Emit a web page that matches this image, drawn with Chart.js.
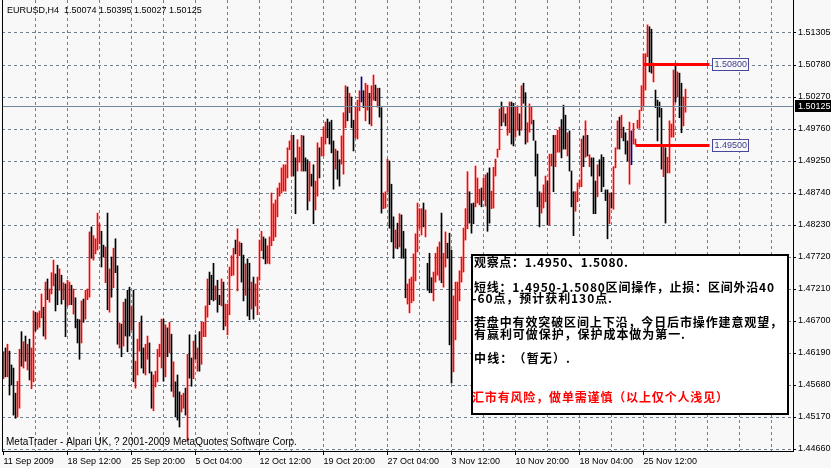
<!DOCTYPE html>
<html><head><meta charset="utf-8">
<script src="https://cdn.jsdelivr.net/npm/chart.js@4.4.1/dist/chart.umd.min.js"></script>
<style>html,body{margin:0;padding:0;background:#f8f8f8;overflow:hidden}canvas{display:block}</style>
</head><body><canvas id="c" width="831" height="468"></canvas>
<script>
// ---------------- data ----------------
const symbolName = 'EURUSD,H4';
const lastBarOHLC = ['1.50074', '1.50395', '1.50027', '1.50125'];
const currentPrice = 1.50125;
const dateLabels = ['11 Sep 2009', '18 Sep 12:00', '25 Sep 20:00', '5 Oct 04:00', '12 Oct 12:00', '19 Oct 20:00',
  '27 Oct 04:00', '3 Nov 12:00', '10 Nov 20:00', '18 Nov 04:00', '25 Nov 12:00'];
const priceLabels = ['1.44660', '1.45170', '1.45680', '1.46190', '1.46700', '1.47210', '1.47720', '1.48230',
  '1.48740', '1.49250', '1.49760', '1.50270', '1.50780', '1.51305'];
const levelPrices = [1.5080, 1.4950];
const levelLabels = ['1.50800', '1.49500'];
const levelStartBars = [320, 316];
const levelEndBars = [353, 353];

const highs = [
1.4621,1.4627,1.4633,1.4622,1.4600,1.4595,1.4555,1.4574,1.4625,1.4653,
1.4637,1.4646,1.4633,1.4641,1.4627,1.4686,1.4684,1.4683,1.4686,1.4713,
1.4692,1.4732,1.4737,1.4721,1.4747,1.4767,1.4745,1.4759,1.4753,1.4743,
1.4731,1.4729,1.4735,1.4732,1.4727,1.4721,1.4707,1.4673,1.4672,1.4702,
1.4705,1.4719,1.4721,1.4812,1.4820,1.4806,1.4801,1.4842,1.4825,1.4813,
1.4791,1.4788,1.4842,1.4753,1.4772,1.4786,1.4801,1.4758,1.4667,1.4665,
1.4700,1.4705,1.4719,1.4724,1.4694,1.4719,1.4606,1.4641,1.4668,1.4678,
1.4627,1.4633,1.4646,1.4635,1.4589,1.4584,1.4590,1.4625,1.4633,1.4673,
1.4673,1.4664,1.4659,1.4668,1.4649,1.4605,1.4573,1.4584,1.4557,1.4552,
1.4555,1.4563,1.4617,1.4648,1.4611,1.4638,1.4648,1.4627,1.4653,1.4668,
1.4668,1.4694,1.4737,1.4748,1.4743,1.4762,1.4726,1.4735,1.4711,1.4737,
1.4732,1.4697,1.4697,1.4756,1.4774,1.4786,1.4799,1.4817,1.4796,1.4794,
1.4775,1.4761,1.4769,1.4762,1.4732,1.4740,1.4729,1.4740,1.4799,1.4813,
1.4804,1.4801,1.4790,1.4804,1.4874,1.4857,1.4863,1.4882,1.4890,1.4914,
1.4919,1.4919,1.4946,1.4957,1.4966,1.4966,1.4930,1.4959,1.4947,1.4966,
1.4965,1.4930,1.4927,1.4923,1.4904,1.4919,1.4893,1.4954,1.4946,1.4963,
1.4979,1.4987,1.4992,1.4987,1.4990,1.4957,1.4944,1.4941,1.4927,1.4965,
1.5002,1.5045,1.5043,1.5033,1.5027,1.4990,1.5011,1.5022,1.5037,1.5059,
1.5037,1.5049,1.5046,1.5033,1.5045,1.5062,1.5046,1.5041,1.5041,1.5010,
1.4874,1.4876,1.4928,1.4925,1.4888,1.4836,1.4815,1.4826,1.4841,1.4839,
1.4813,1.4785,1.4729,1.4737,1.4740,1.4777,1.4809,1.4858,1.4849,1.4849,
1.4858,1.4847,1.4762,1.4778,1.4739,1.4748,1.4778,1.4788,1.4796,1.4842,
1.4778,1.4812,1.4794,1.4810,1.4783,1.4710,1.4732,1.4732,1.4750,1.4772,
1.4818,1.4849,1.4908,1.4876,1.4857,1.4858,1.4917,1.4898,1.4880,1.4882,
1.4898,1.4903,1.4906,1.4914,1.4877,1.4915,1.4928,1.4944,1.5008,1.5019,
1.5011,1.5000,1.5011,1.5019,1.5019,1.5017,1.5011,1.5013,1.5000,1.5045,
1.5049,1.5034,1.4986,1.5016,1.5011,1.4990,1.4957,1.4936,1.4876,1.4874,
1.4887,1.4901,1.4893,1.4936,1.4936,1.4966,1.4966,1.4974,1.4979,1.4991,
1.5014,1.4998,1.4970,1.4973,1.4909,1.4876,1.4876,1.4890,1.4895,1.4960,
1.4965,1.4989,1.4966,1.4935,1.4930,1.4930,1.4893,1.4919,1.4927,1.4935,
1.4931,1.4879,1.4879,1.4874,1.4874,1.4916,1.4946,1.4989,1.4995,1.4998,
1.4979,1.4970,1.4957,1.4987,1.4973,1.4985,1.4960,1.4990,1.5006,1.5045,
1.5096,1.5096,1.5142,1.5139,1.5135,1.5081,1.5038,1.5022,1.5019,1.5009,
1.4947,1.4946,1.4931,1.4989,1.4984,1.5070,1.5081,1.5067,1.5065,1.5049,
1.5027,1.50395];

const lows = [
1.4578,1.4581,1.4581,1.4552,1.4568,1.4520,1.4515,1.4517,1.4531,1.4598,
1.4595,1.4606,1.4592,1.4576,1.4562,1.4573,1.4654,1.4657,1.4660,1.4675,
1.4646,1.4641,1.4704,1.4700,1.4713,1.4726,1.4686,1.4696,1.4719,1.4697,
1.4704,1.4645,1.4694,1.4696,1.4696,1.4681,1.4659,1.4635,1.4609,1.4635,
1.4668,1.4673,1.4704,1.4708,1.4770,1.4767,1.4777,1.4783,1.4793,1.4756,
1.4772,1.4731,1.4688,1.4684,1.4708,1.4723,1.4747,1.4633,1.4627,1.4613,
1.4630,1.4646,1.4621,1.4646,1.4656,1.4573,1.4563,1.4584,1.4622,1.4595,
1.4587,1.4584,1.4609,1.4587,1.4531,1.4527,1.4565,1.4573,1.4613,1.4595,
1.4574,1.4581,1.4613,1.4619,1.4558,1.4549,1.4517,1.4512,1.4501,1.4525,
1.4531,1.4520,1.4479,1.4579,1.4566,1.4578,1.4609,1.4590,1.4590,1.4601,
1.4645,1.4645,1.4676,1.4696,1.4704,1.4702,1.4704,1.4684,1.4696,1.4694,
1.4656,1.4662,1.4648,1.4680,1.4742,1.4743,1.4777,1.4718,1.4774,1.4732,
1.4702,1.4711,1.4678,1.4672,1.4689,1.4673,1.4694,1.4680,1.4735,1.4782,
1.4769,1.4761,1.4762,1.4761,1.4790,1.4798,1.4804,1.4836,1.4869,1.4874,
1.4877,1.4877,1.4898,1.4943,1.4901,1.4901,1.4841,1.4909,1.4923,1.4909,
1.4909,1.4909,1.4847,1.4861,1.4885,1.4825,1.4847,1.4869,1.4898,1.4933,
1.4933,1.4952,1.4962,1.4952,1.4938,1.4880,1.4912,1.4896,1.4885,1.4920,
1.4904,1.4978,1.4989,1.5002,1.4978,1.4941,1.4962,1.4960,1.5005,1.5019,
1.5010,1.4989,1.5006,1.4984,1.4981,1.5022,1.5021,1.5011,1.4995,1.4842,
1.4849,1.4850,1.4876,1.4818,1.4796,1.4770,1.4786,1.4785,1.4788,1.4770,
1.4770,1.4707,1.4697,1.4683,1.4699,1.4702,1.4734,1.4780,1.4818,1.4807,
1.4820,1.4804,1.4719,1.4715,1.4715,1.4702,1.4732,1.4743,1.4735,1.4731,
1.4724,1.4756,1.4770,1.4632,1.4571,1.4589,1.4640,1.4672,1.4702,1.4732,
1.4748,1.4799,1.4817,1.4826,1.4810,1.4825,1.4852,1.4858,1.4855,1.4852,
1.4863,1.4853,1.4813,1.4826,1.4849,1.4850,1.4901,1.4931,1.4943,1.4981,
1.4987,1.4981,1.4966,1.4970,1.4952,1.4949,1.4963,1.4974,1.4966,1.4974,
1.5017,1.4952,1.4955,1.4971,1.4984,1.4958,1.4901,1.4852,1.4820,1.4842,
1.4850,1.4860,1.4823,1.4823,1.4917,1.4876,1.4916,1.4939,1.4939,1.4930,
1.4944,1.4944,1.4933,1.4909,1.4852,1.4806,1.4845,1.4860,1.4884,1.4884,
1.4916,1.4931,1.4933,1.4916,1.4901,1.4841,1.4841,1.4868,1.4901,1.4876,
1.4884,1.4862,1.4801,1.4825,1.4850,1.4848,1.4914,1.4944,1.4944,1.4962,
1.4957,1.4936,1.4925,1.4888,1.4919,1.4952,1.4951,1.4977,1.4977,1.5005,
1.5011,1.5038,1.5091,1.5067,1.5065,1.5051,1.5010,1.4957,1.4995,1.4912,
1.4900,1.4826,1.4906,1.4906,1.4963,1.4963,1.5019,1.5027,1.4994,1.4970,
1.4981,1.50027];

// u = close above open, d = close below open, n = unchanged
const barDirection =
 'ududd dduud ududu uduuu duduu uddud uduud udddu duuud uuuud dudud uddud udddu duuud duudd uuuuu ' +
 'dudud udddu ududd ududu uuudd duddu duuuu uduud duddu duuuu dduuu uuuuu uuuuu dduuu dddud duudu ' +
 'uuddd duddu uudud duuun duudu ududd uuudd dudud dduuu uuuuu duddd uuuud uuddd uuuuu uuudd duuud ' +
 'uuddu uuuud uduud duudu dduuu ddddu uuduu duuud ddudd duuuu dudud ddudd dddud uuudu dddun uuuuu ' +
 'uuudd udddd uduuu ududd uu';

const noteLines = [
  '观察点：1.4950、1.5080.',
  '短线：1.4950-1.5080区间操作，止损：区间外沿40',
  '-60点，预计获利130点.',
  '若盘中有效突破区间上下沿，今日后市操作建意观望，',
  '有赢利可做保护，保护成本做为第一.',
  '中线：（暂无）.',
  '汇市有风险，做单需谨慎（以上仅个人浅见）'
];
const footerText = 'MetaTrader - Alpari UK, ? 2001-2009 MetaQuotes Software Corp.';

// ---------------- styles / layout ----------------
const BG = '#f8f8f8';
const GRID = '#708090';
const UP = '#ff0000', DOWN = '#000000', FLAT = '#000080';
const FONT = "'Liberation Sans', Arial, sans-serif";
const CJK = "'Noto Sans CJK SC', sans-serif";
const noteLayout = [
  {x: 474, y: 262, w: 154, color: '#000'},
  {x: 474, y: 287, w: 300, color: '#000'},
  {x: 472, y: 298, w: 140, color: '#000'},
  {x: 474, y: 322, w: 308, color: '#000'},
  {x: 474, y: 334, w: 211, color: '#000'},
  {x: 474, y: 358, w: 96, color: '#000'},
  {x: 472, y: 397.5, w: 256, color: '#ff0000'}
];

const dirs = barDirection.replace(/\s+/g, '').split('');
const bars = highs.map((h, i) => ({x: i, y: [lows[i], h]}));
const colors = dirs.map(d => d === 'u' ? UP : (d === 'n' ? FLAT : DOWN));

function drawSpaced(ctx, text, x, y, width) {
  const chars = Array.from(text);
  const ws = chars.map(c => ctx.measureText(c).width);
  const nat = ws.reduce((a, b) => a + b, 0);
  const gap = chars.length > 1 ? (width - nat) / (chars.length - 1) : 0;
  let cx = x;
  chars.forEach((c, i) => { ctx.fillText(c, cx, y); cx += ws[i] + gap; });
}

const overlay = {
  id: 'overlay',
  beforeDraw(chart) {
    const ctx = chart.ctx;
    ctx.save(); ctx.fillStyle = BG; ctx.fillRect(0, 0, chart.width, chart.height); ctx.restore();
  },
  afterDatasetsDraw(chart) {
    const {ctx, chartArea: a, scales: {x, y}} = chart;
    ctx.save();
    ctx.strokeStyle = '#000'; ctx.lineWidth = 1;
    ctx.beginPath(); ctx.moveTo(a.left + 0.5, a.top); ctx.lineTo(a.left + 0.5, a.bottom + 1); ctx.stroke();
    const yc = Math.round(y.getPixelForValue(currentPrice)) + 0.5;
    ctx.strokeStyle = '#71869b';
    ctx.beginPath(); ctx.moveTo(a.left + 1, yc); ctx.lineTo(a.right, yc); ctx.stroke();
    levelPrices.forEach((p, k) => {
      const yy = Math.round(y.getPixelForValue(p)) + 0.5;
      const x1 = x.getPixelForValue(levelStartBars[k]);
      const x2 = x.getPixelForValue(levelEndBars[k]);
      ctx.strokeStyle = '#ff0000'; ctx.lineWidth = 3;
      ctx.beginPath(); ctx.moveTo(x1, yy); ctx.lineTo(x2, yy); ctx.stroke();
      const bx = Math.round(x2) + 2.5;
      ctx.fillStyle = BG; ctx.fillRect(bx, yy - 6, 36, 12);
      ctx.strokeStyle = '#46469a'; ctx.lineWidth = 1; ctx.strokeRect(bx, yy - 6, 36, 12);
      ctx.fillStyle = '#3c3c8c'; ctx.font = '9px ' + FONT;
      ctx.textBaseline = 'middle'; ctx.textAlign = 'left';
      ctx.fillText(levelLabels[k], bx + 2, yy + 0.5);
    });
    ctx.restore();
  },
  afterDraw(chart) {
    const {ctx, chartArea: a, scales: {y}} = chart;
    ctx.save();
    ctx.textBaseline = 'middle'; ctx.textAlign = 'left';
    const yc = Math.round(y.getPixelForValue(currentPrice));
    ctx.fillStyle = '#000'; ctx.fillRect(a.right + 2, yc - 6, chart.width - a.right - 2, 12);
    ctx.fillStyle = '#fff'; ctx.font = '9px ' + FONT;
    ctx.fillText(currentPrice.toFixed(5), a.right + 5, yc + 0.5);
    ctx.fillStyle = '#000';
    ctx.fillText(symbolName + '  ' + lastBarOHLC.join(' '), 7, 10.5);
    ctx.font = '10px ' + FONT;
    ctx.fillText(footerText, 6, 442.5);
    ctx.fillStyle = '#ffffff'; ctx.fillRect(472, 255, 316, 159);
    ctx.strokeStyle = '#000'; ctx.lineWidth = 2; ctx.strokeRect(472, 255, 316, 159);
    ctx.font = 'bold 12px ' + CJK;
    noteLines.forEach((t, i) => {
      const L = noteLayout[i];
      ctx.fillStyle = L.color;
      drawSpaced(ctx, t, L.x, L.y, L.w);
    });
    ctx.restore();
  }
};

new Chart(document.getElementById('c'), {
  type: 'bar',
  data: { datasets: [{ data: bars, backgroundColor: colors, borderWidth: 0, barThickness: 1, grouped: false }] },
  options: {
    responsive: false, animation: false, devicePixelRatio: 1,
    layout: { padding: { left: 2, top: 0, right: 0, bottom: 0 } },
    plugins: { legend: { display: false }, tooltip: { enabled: false } },
    scales: {
      x: {
        type: 'linear', min: -0.75, max: 394.75, offset: false, bounds: 'data',
        afterBuildTicks: s => { const t = []; for (let i = 0; i <= s.max; i += 16) t.push({value: i}); s.ticks = t; },
        afterFit: s => { s.height = 17; s.paddingLeft = 0; s.paddingRight = 0; },
        ticks: {
          autoSkip: false, maxRotation: 0, minRotation: 0, align: 'start', padding: 1, color: '#000',
          font: { family: FONT, size: 9 },
          callback: v => (v % 32 === 0 && dateLabels[v / 32]) ? dateLabels[v / 32] : ''
        },
        grid: {
          offset: false, lineWidth: 1, tickLength: 4,
          color: c => (c.tick && c.tick.value === 0) ? 'rgba(0,0,0,0)' : GRID,
          tickColor: c => (c.tick && c.tick.value % 32 === 0 && dateLabels[c.tick.value / 32]) ? '#000' : 'rgba(0,0,0,0)'
        },
        border: { display: true, color: '#000', width: 1, dash: [3, 3] }
      },
      y: {
        type: 'linear', position: 'right', min: 1.44628125, max: 1.51815938, beginAtZero: false, bounds: 'data',
        afterBuildTicks: s => { s.ticks = priceLabels.map(t => ({value: parseFloat(t)})); },
        afterFit: s => { s.width = 38; s.paddingTop = 0; s.paddingBottom = 0; },
        ticks: { autoSkip: false, padding: 2, color: '#000', font: { family: FONT, size: 9 },
          callback: (v, i) => priceLabels[i] },
        grid: { color: GRID, lineWidth: 1, tickLength: 3, tickColor: '#000' },
        border: { display: true, color: '#000', width: 1, dash: [3, 3] }
      }
    }
  },
  plugins: [overlay]
});
</script>
</body></html>
